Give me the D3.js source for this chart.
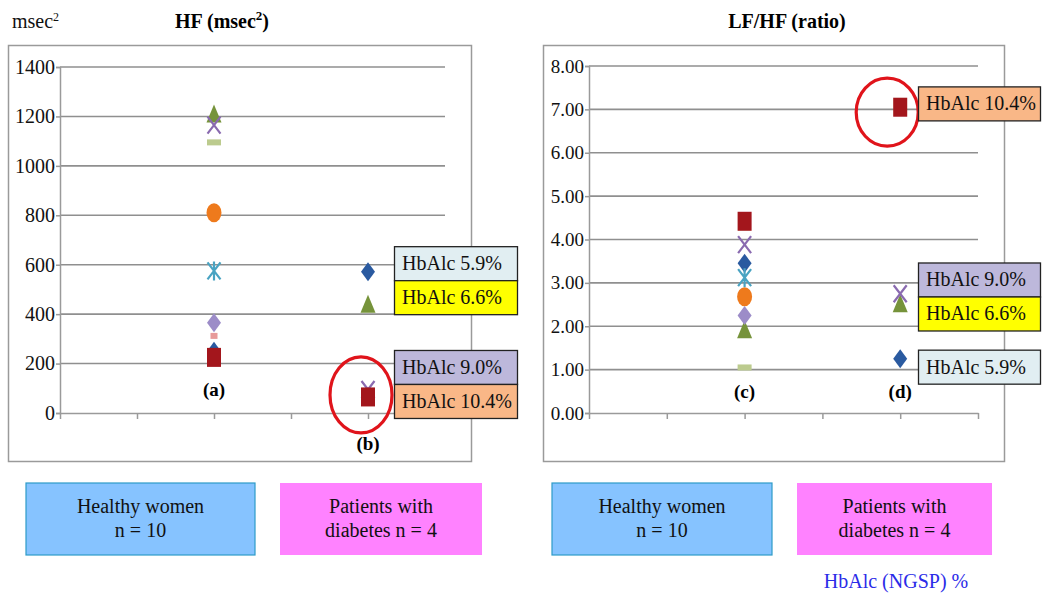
<!DOCTYPE html>
<html>
<head>
<meta charset="utf-8">
<script src="https://cdn.jsdelivr.net/npm/d3@7/dist/d3.min.js"></script>
<style>
  html, body { margin: 0; padding: 0; background: #fff; }
  svg text { font-family: "Liberation Serif", "Times New Roman", serif !important; }
</style>
</head>
<body>
<svg id="chart" width="1043" height="596"></svg>
<script>
// ---- data ----------------------------------------------------------------
// Each subject is drawn with its own marker; values are read per subject.
const healthySubjects = ["blueDiamond", "redSquare", "greenTriangle", "purpleX", "cyanStar",
                         "orangeCircle", "lavenderDiamond", "greenDash", "pinkDot"];
const hfHealthy   = [250, 225, 1210, 1165, 575, 810, 365, 1095, 312];
const lfhfHealthy = [3.45, 4.42, 1.92, 3.88, 3.12, 2.68, 2.25, 1.05, null];

const patientSubjects = ["blueDiamond", "greenTriangle", "purpleX", "redSquare"];
const hbA1cPatients   = ["5.9", "6.6", "9.0", "10.4"];
const hfPatients      = [572, 440, 95, 65];
const lfhfPatients    = [1.25, 2.52, 2.75, 7.05];

const groupX      = [2, 4];                  // category slots on a 0..5 axis
const groupTags   = ["(a)", "(b)", "(c)", "(d)"];
const hfTicks     = [0, 200, 400, 600, 800, 1000, 1200, 1400];
const lfhfTicks   = [0, 1, 2, 3, 4, 5, 6, 7, 8];

// ---- styles ----------------------------------------------------------------
const markerStyle = {
  blueDiamond:     { shape: "diamond",  color: "#2C5AA0" },
  redSquare:       { shape: "square",   color: "#A3161C" },
  greenTriangle:   { shape: "triangle", color: "#76933A" },
  purpleX:         { shape: "x",        color: "#8A6BB0" },
  cyanStar:        { shape: "star",     color: "#4AA3C2" },
  orangeCircle:    { shape: "circle",   color: "#EE7A1E" },
  lavenderDiamond: { shape: "diamond",  color: "#9C8CC8" },
  greenDash:       { shape: "dash",     color: "#BCCB8E" },
  pinkDot:         { shape: "dot",      color: "#E79A9A" }
};
const hbBoxFill = { "5.9": "#E1EEF2", "6.6": "#FFFF00", "9.0": "#BDB8DB", "10.4": "#F9B787" };

const svg = d3.select("#chart");
const defs = svg.append("defs");
defs.append("filter").attr("id", "soft")
  .append("feGaussianBlur").attr("stdDeviation", 0.7);

function drawMarker(g, key, cx, cy) {
  const s = markerStyle[key];
  const m = g.append("g").attr("transform", `translate(${cx},${cy})`).attr("filter", "url(#soft)");
  const c = s.color;
  switch (s.shape) {
    case "diamond":
      m.append("path").attr("d", "M0,-9.5L7,0L0,9.5L-7,0Z").attr("fill", c); break;
    case "square":
      m.append("rect").attr("x", -7).attr("y", -9.5).attr("width", 14).attr("height", 19).attr("fill", c); break;
    case "triangle":
      m.append("path").attr("d", "M0,-9.5L7.5,8.5L-7.5,8.5Z").attr("fill", c); break;
    case "x":
      m.append("path").attr("d", "M-6.5,-8.5L6.5,8.5M6.5,-8.5L-6.5,8.5").attr("stroke", c).attr("stroke-width", 2.2).attr("fill", "none"); break;
    case "star":
      m.append("path").attr("d", "M-6.5,-8.5L6.5,8.5M6.5,-8.5L-6.5,8.5M0,-9.5L0,9.5").attr("stroke", c).attr("stroke-width", 2.2).attr("fill", "none"); break;
    case "circle":
      m.append("ellipse").attr("rx", 7.5).attr("ry", 9.5).attr("fill", c); break;
    case "dash":
      m.append("rect").attr("x", -7).attr("y", -3).attr("width", 14).attr("height", 6).attr("fill", c); break;
    case "dot":
      m.append("rect").attr("x", -3.5).attr("y", -3).attr("width", 7).attr("height", 6).attr("fill", c); break;
  }
}

function drawPanel(cfg) {
  const g = svg.append("g");
  // outer frame
  g.append("rect").attr("x", cfg.frame[0] + 0.5).attr("y", cfg.frame[1] + 0.5)
    .attr("width", cfg.frame[2]).attr("height", cfg.frame[3])
    .attr("fill", "none").attr("stroke", "#9a9a9a").attr("stroke-width", 1.5);

  const x = d3.scaleLinear().domain([0, 5]).range([cfg.x0, cfg.x1]);
  const y = d3.scaleLinear().domain([0, d3.max(cfg.ticks)]).range([cfg.yBottom, cfg.yTop]);

  // gridlines
  g.append("g").selectAll("line").data(cfg.ticks.slice(1)).join("line")
    .attr("x1", cfg.x0).attr("x2", cfg.x1)
    .attr("y1", d => y(d)).attr("y2", d => y(d))
    .attr("stroke", "#8f8f8f").attr("stroke-width", 1.6);

  // y axis
  const ya = g.append("g").attr("transform", `translate(${cfg.x0},0)`)
    .call(d3.axisLeft(y).tickValues(cfg.ticks).tickFormat(cfg.fmt).tickSize(4).tickPadding(1));
  ya.select(".domain").attr("stroke", "#9a9a9a").attr("stroke-width", 1.5);
  ya.selectAll(".tick line").attr("stroke", "#9a9a9a").attr("stroke-width", 1.5);
  ya.selectAll("text").attr("font-size", cfg.tickSize).attr("fill", "#111");

  // x axis
  const xa = g.append("g").attr("transform", `translate(0,${cfg.yBottom})`)
    .call(d3.axisBottom(x).ticks(5).tickFormat("").tickSizeInner(6).tickSizeOuter(0));
  xa.select(".domain").attr("stroke", "#9a9a9a").attr("stroke-width", 1.5);
  xa.selectAll(".tick line").attr("stroke", "#9a9a9a").attr("stroke-width", 1.5);

  // title
  g.append("text").attr("x", cfg.titleX).attr("y", 28).attr("text-anchor", "middle")
    .attr("font-weight", "bold").attr("font-size", 20).html(cfg.title);

  // healthy subjects
  cfg.healthy.forEach((v, i) => {
    if (v == null) return;
    drawMarker(g, healthySubjects[i], x(groupX[0]), y(v));
  });
  // patients
  cfg.patients.forEach((v, i) => drawMarker(g, patientSubjects[i], x(groupX[1]), y(v)));

  // group tags
  cfg.tags.forEach(t => {
    g.append("text").attr("x", x(t.at)).attr("y", t.y).attr("text-anchor", "middle")
      .attr("font-weight", "bold").attr("font-size", 19).text(t.text);
  });

  // highlight ellipse around highest-HbA1c patient
  const hi = hbA1cPatients.indexOf("10.4");
  g.append("ellipse")
    .attr("cx", x(groupX[1]) + cfg.ring.dx).attr("cy", y(cfg.patients[hi]) + cfg.ring.dy)
    .attr("rx", cfg.ring.rx).attr("ry", cfg.ring.ry)
    .attr("fill", "none").attr("stroke", "#E0141B").attr("stroke-width", 3.2);

  // HbA1c label boxes
  cfg.boxes.forEach(b => {
    const top = y(b.anchor);
    b.items.forEach((hb, k) => {
      const by = top + k * cfg.boxH;
      g.append("rect").attr("x", cfg.boxX + 0.5).attr("y", by + 0.5)
        .attr("width", cfg.boxW).attr("height", cfg.boxH)
        .attr("fill", hbBoxFill[hb]).attr("stroke", "#222").attr("stroke-width", 1.3);
      g.append("text").attr("x", cfg.boxX + 8).attr("y", by + cfg.boxH / 2 + 7)
        .attr("font-size", 20).attr("fill", "#111").text(`HbAlc ${hb}%`);
    });
  });

  // group boxes beneath
  cfg.groups.forEach(gb => {
    g.append("rect").attr("x", gb.x).attr("y", gb.y).attr("width", gb.w).attr("height", gb.h)
      .attr("fill", gb.fill).attr("stroke", gb.stroke || "none").attr("stroke-width", 1.2);
    gb.lines.forEach((ln, k) => {
      g.append("text").attr("x", gb.x + gb.w / 2).attr("y", gb.y + 30 + k * 24)
        .attr("text-anchor", "middle").attr("font-size", 20).attr("fill", "#111").text(ln);
    });
  });
}

const healthyBox = (x, w) => ({ x, y: 483, w, h: 72, fill: "#86C3FF", stroke: "#2E9BC8",
  lines: ["Healthy women", "n = 10"] });
const patientBox = (x, w) => ({ x, y: 483, w, h: 72, fill: "#FF82FF",
  lines: ["Patients with", "diabetes n = 4"] });

drawPanel({
  frame: [8, 45, 463, 416], x0: 60, x1: 445, yTop: 67, yBottom: 413,
  ticks: hfTicks, fmt: d3.format("d"), tickSize: 20,
  title: 'HF (msec<tspan font-size="13" dy="-8">2</tspan><tspan dy="8">)</tspan>', titleX: 222,
  healthy: hfHealthy, patients: hfPatients,
  tags: [{ at: groupX[0], text: groupTags[0], y: 396 }, { at: groupX[1], text: groupTags[1], y: 450 }],
  ring: { dx: -7, dy: -2, rx: 31, ry: 38 },
  boxX: 394, boxW: 123, boxH: 34,
  boxes: [{ anchor: 675, items: ["5.9", "6.6"] }, { anchor: 255, items: ["9.0", "10.4"] }],
  groups: [healthyBox(26, 229), patientBox(280, 202)]
});

drawPanel({
  frame: [543, 45, 461, 416], x0: 589, x1: 978, yTop: 66, yBottom: 413,
  ticks: lfhfTicks, fmt: d3.format(".2f"), tickSize: 19,
  title: "LF/HF (ratio)", titleX: 787,
  healthy: lfhfHealthy, patients: lfhfPatients,
  tags: [{ at: groupX[0], text: groupTags[2], y: 398 }, { at: groupX[1], text: groupTags[3], y: 398 }],
  ring: { dx: -13, dy: 5, rx: 31, ry: 34 },
  boxX: 918, boxW: 122, boxH: 34,
  boxes: [{ anchor: 7.53, items: ["10.4"] }, { anchor: 3.47, items: ["9.0", "6.6"] }, { anchor: 1.46, items: ["5.9"] }],
  groups: [healthyBox(552, 220), patientBox(797, 195)]
});

// unit label and footnote
svg.append("text").attr("x", 12).attr("y", 28).attr("font-size", 20).attr("fill", "#111")
  .html('msec<tspan font-size="12" dy="-7">2</tspan>');
svg.append("text").attr("x", 896).attr("y", 588).attr("text-anchor", "middle")
  .attr("font-size", 20).attr("fill", "#2B2BE8").text("HbAlc (NGSP) %");
</script>
</body>
</html>
